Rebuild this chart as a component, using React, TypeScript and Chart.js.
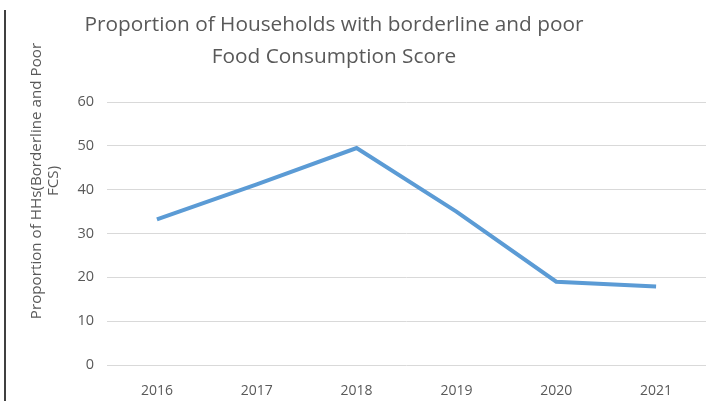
import React, { useEffect, useRef } from "react";
import { Chart, registerables } from "chart.js";

Chart.register(...registerables);

const years = ["2016", "2017", "2018", "2019", "2020", "2021"];
const fcsValues = [33.2, 41.2, 49.5, 35, 19, 17.9];
const titleLines = ["Proportion of Households with borderline and poor", "Food Consumption Score"];
const yTitleLines = ["Proportion of HHs(Borderline and Poor", "FCS)"];

const FONT = "'Open Sans', Lato, sans-serif";

const textPlugin = {
  id: "textPlugin",
  afterDraw(chart: any) {
    const ctx = chart.ctx;
    ctx.save();
    ctx.fillStyle = "#595959";
    ctx.textAlign = "center";
    ctx.textBaseline = "middle";
    ctx.font = `20.8px ${FONT}`;
    ctx.fillText(titleLines[0], 334, 25);
    ctx.fillText(titleLines[1], 334, 57);
    ctx.font = `15.2px ${FONT}`;
    ctx.save();
    ctx.translate(37, 181);
    ctx.rotate(-Math.PI / 2);
    ctx.fillText(yTitleLines[0], 0, 0);
    ctx.fillText(yTitleLines[1], 0, 17);
    ctx.restore();
    ctx.restore();
  },
};

export default function App() {
  const ref = useRef<HTMLCanvasElement>(null);
  useEffect(() => {
    if (!ref.current) return;
    const chart = new Chart(ref.current, {
      type: "line",
      data: {
        labels: years,
        datasets: [
          {
            data: fcsValues,
            borderColor: "#5B9BD5",
            borderWidth: 4,
            pointRadius: 0,
            tension: 0,
            fill: false,
          },
        ],
      },
      options: {
        animation: false,
        responsive: false,
        layout: { padding: { top: 102, right: 0, left: 0, bottom: 0 } },
        plugins: { legend: { display: false }, title: { display: false }, tooltip: { enabled: false } },
        scales: {
          x: {
            offset: true,
            grid: { display: false },
            border: { display: false },
            ticks: { color: "#595959", font: { family: FONT, size: 14 }, padding: 10, maxRotation: 0 },
            afterFit: (s: any) => {
              s.height = 36;
            },
          },
          y: {
            min: 0,
            max: 60,
            ticks: { stepSize: 10, color: "#595959", font: { family: FONT, size: 14.5 }, padding: 13 },
            grid: { color: "#d9d9d9", lineWidth: 1, drawTicks: false },
            border: { display: false },
            afterFit: (s: any) => {
              s.width = 107;
            },
          },
        },
      },
      plugins: [textPlugin],
    });
    return () => chart.destroy();
  }, []);
  return (
    <div style={{ position: "absolute", left: 0, top: 0, width: 706, height: 401, background: "#fff" }}>
      <div style={{ position: "absolute", left: 4, top: 10, width: 2, height: 391, background: "#404040" }} />
      <canvas ref={ref} width={706} height={401} style={{ position: "absolute", left: 0, top: 0 }} />
    </div>
  );
}
